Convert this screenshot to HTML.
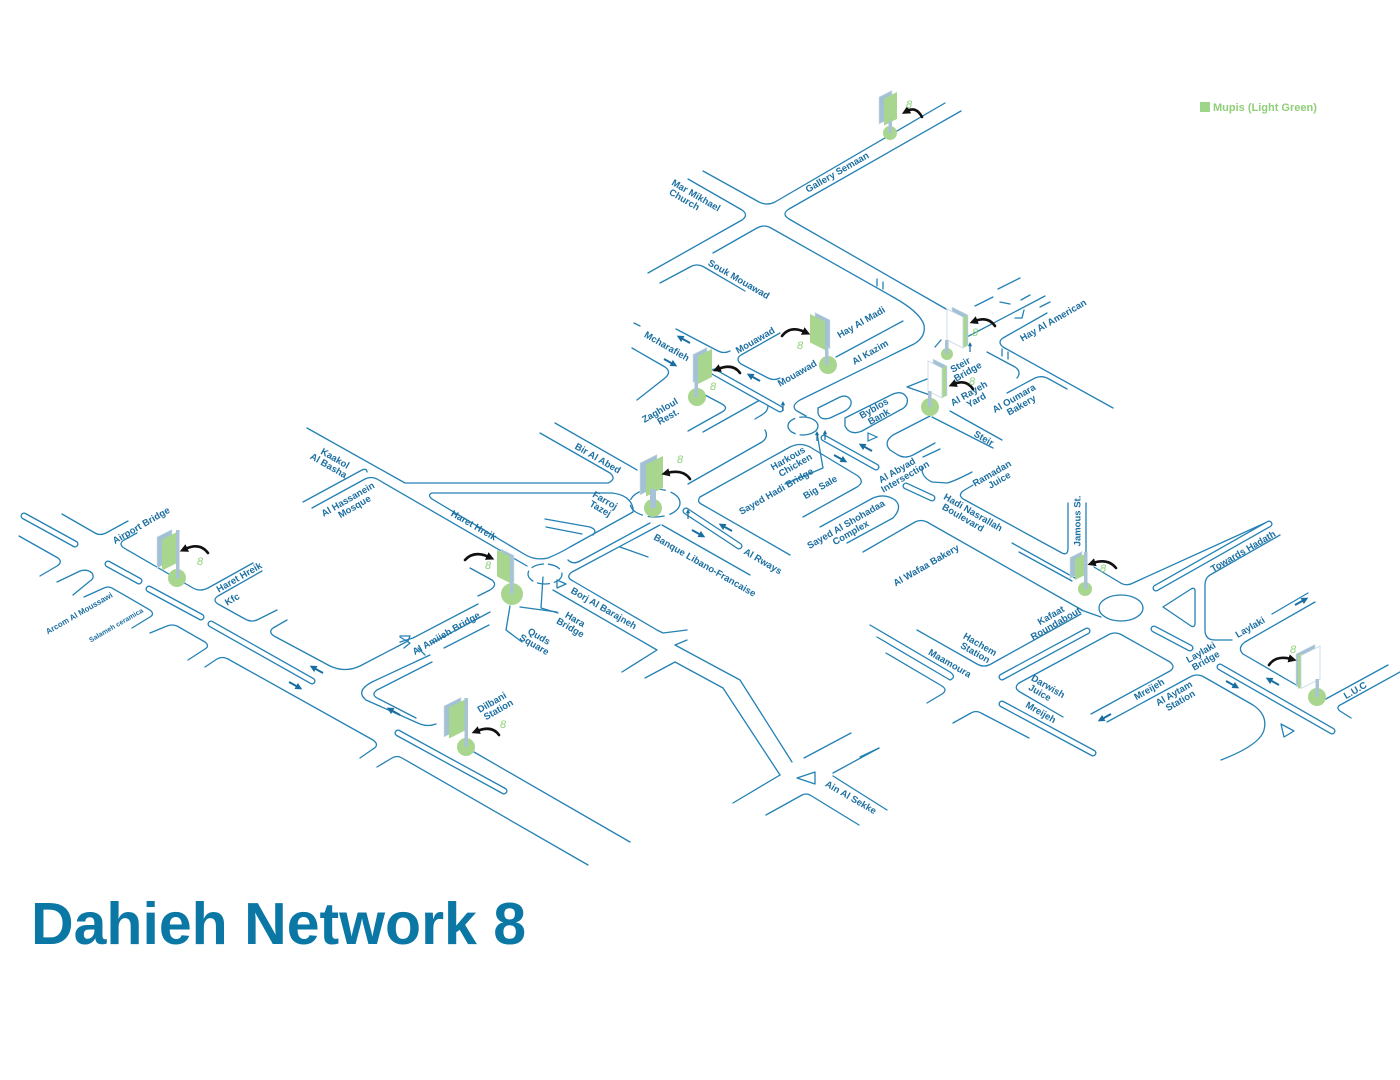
<!DOCTYPE html>
<html>
<head>
<meta charset="utf-8">
<style>
html,body{margin:0;padding:0;background:#fff;}
svg{display:block;}
.r{fill:none;stroke:#2381b4;stroke-width:1.3;stroke-linejoin:round;stroke-linecap:round;}
.c1{fill:none;stroke:#2381b4;stroke-width:7;stroke-linecap:round;}
.c2{fill:none;stroke:#fff;stroke-width:4.4;stroke-linecap:round;}
.t{font-family:"Liberation Sans",Arial,sans-serif;font-weight:bold;font-size:9.5px;fill:#1b6ea0;}
.ts{font-family:"Liberation Sans",Arial,sans-serif;font-weight:bold;font-size:7px;fill:#1b6ea0;}
.e8{font-family:"Liberation Sans",Arial,sans-serif;font-style:italic;font-size:11px;fill:#8fd07a;}
.ar{fill:none;stroke:#1a6ea0;stroke-width:2;marker-end:url(#bh);}
.ka{fill:none;stroke:#111;stroke-width:2.6;stroke-linecap:round;marker-end:url(#kh);}
.gf{fill:#a9d68e;}
.bk{fill:#a3c0d4;stroke:#cfe0ea;stroke-width:0.6;}
.pl{fill:#a8c3d6;}
.wf{fill:#fff;stroke:#c3d7e3;stroke-width:0.8;}
</style>
</head>
<body>
<svg width="1400" height="1080" viewBox="0 0 1400 1080" xmlns="http://www.w3.org/2000/svg">
<defs>
<marker id="bh" viewBox="0 0 10 10" refX="3" refY="5" markerWidth="3.5" markerHeight="3.5" orient="auto"><path d="M0,0 L10,5 L0,10 z" fill="#1a6ea0"/></marker>
<marker id="kh" viewBox="0 0 10 10" refX="3" refY="5" markerWidth="3.2" markerHeight="3.2" orient="auto"><path d="M0,0 L10,5 L0,10 z" fill="#111"/></marker>
</defs>
<rect width="1400" height="1080" fill="#fff"/>

<g class="r">
<path d="M703,171 L759,202 Q767,206 775,202 L945,103"/>
<path d="M961,111 L789,209 Q781,214 789,219 L946,309"/>
<path d="M688,179 L742,210 Q749,215 742,220 L648,273"/>
<path d="M660,283 L690,267 Q697,263 704,267 L745,291"/>
<path d="M713,253 L757,228 Q764,224 771,228 L893,297 Q920,312 924,325 Q926,337 914,344 L800,400 Q790,406 797,411 L806,416"/>
<path d="M877,279 L877,286 M883,282 L883,289"/>
<path d="M632,348 L665,367 Q672,372 665,378 L637,400"/>
<path d="M634,323 L640,326"/>
<path d="M676,329 L718,351 Q724,354 730,351"/>
<path d="M780,333 L741,355 Q735,359 741,364 L768,378 Q774,381 780,378"/>
<path d="M836,357 L903,321"/>
<path d="M705,395 L722,404 Q729,408 722,412 L688,431"/>
<path d="M703,432 L760,400 Q768,397 768,406 Q768,412 760,416 L755,419"/>
<path d="M688,484 L762,442 Q769,437 765,430"/>
<path d="M700,497 L790,447 Q800,442 810,447 L858,476 Q865,482 857,487 L803,517"/>
<path d="M700,497 Q696,502 703,505 L790,555"/>
<path d="M817,433 L823,468 L785,484"/>
<path d="M820,527 L873,498 Q885,493 895,500 Q903,507 893,518 L847,543"/>
<path d="M930,416 L893,435 Q883,442 890,450 L898,455 Q905,459 913,455 L935,443"/>
<path d="M923,457 L940,449"/>
<path d="M922,467 Q921,477 932,482 L947,483 Q955,481 972,472"/>
<path d="M818,408 L840,397 Q848,394 851,401 Q852,407 845,411 L830,418 Q820,421 818,413 Z"/>
<path d="M845,418 L893,394 Q903,390 907,398 Q909,406 900,410 L862,431 Q850,436 845,426 Z"/>
<ellipse cx="803" cy="426" rx="15" ry="9" stroke-dasharray="22 5"/>
<path d="M965,338 L1045,296"/>
<path d="M1047,313 L1003,338 Q997,342 1003,347 L1113,408"/>
<path d="M987,352 L1015,367 Q1022,372 1017,378"/>
<path d="M1002,349 L1002,356 M1008,352 L1008,359"/>
<path d="M975,306 L993,297 M998,289 L1020,278 M1000,302 L1010,304 M1015,318 L1022,318 L1024,310 M1040,307 L1050,302 M1021,300 L1030,295"/>
<path d="M932,417 L993,448"/>
<path d="M950,411 L1002,440"/>
<path d="M1007,393 L1035,378 Q1042,375 1049,379 L1067,389"/>
<path d="M927,379 L907,387 L930,395"/>
<path d="M941,340 L935,347"/>
<path d="M973,485 L963,491 Q957,496 965,500 L1062,553 Q1068,556 1068,548 L1068,503"/>
<path d="M1086,503 L1086,558"/>
<path d="M1012,543 L1075,578"/>
<path d="M1019,552 L1072,581"/>
<path d="M863,552 L915,522 Q921,519 927,522 L1082,610"/>
<path d="M1081,614 L991,664 Q984,668 977,664 L917,630"/>
<path d="M870,625 L950,672 Q957,677 950,680 L877,637"/>
<path d="M886,653 L942,686 Q948,690 942,694 L927,703"/>
<path d="M1019,683 L1108,635 Q1115,631 1122,635 L1170,662 Q1176,667 1170,671 L1091,714"/>
<path d="M1019,683 Q1013,688 1020,692 L1063,717"/>
<path d="M1107,722 L1190,677 Q1197,673 1204,677 L1253,705 Q1268,715 1264,730 Q1260,745 1221,760"/>
<path d="M953,723 L971,713 Q976,710 981,713 L1029,738"/>
<path d="M860,757 L879,748"/>
<path d="M1094,567 L1119,582 Q1126,587 1133,583 L1265,523"/>
<path d="M1280,535 L1210,575 Q1205,578 1205,585 L1205,630 Q1205,640 1215,640 L1232,640"/>
<path d="M1272,614 L1308,593"/>
<path d="M1315,602 L1245,642 Q1237,648 1243,654 L1298,686"/>
<path d="M1163,607 L1191,589 Q1195,587 1195,591 L1195,623 Q1195,628 1191,626 Z"/>
<path d="M1324,700 L1388,665"/>
<path d="M1351,718 L1340,711 Q1335,707 1342,704 L1400,672"/>
<ellipse cx="1121" cy="608" rx="22" ry="13"/>
<path d="M1101,617 L1081,610"/>
<path d="M1281,724 L1294,731 L1284,737 Z"/>
<path d="M540,433 L610,473 Q617,479 608,483 L405,483 L307,428"/>
<path d="M555,423 L637,470"/>
<path d="M432,493 L612,493 Q630,495 633,508 L633,512 L570,547 Q560,553 548,558 Q535,561 524,554 L432,499 Q427,495 432,493 Z"/>
<path d="M545,519 L590,527 Q598,530 593,535"/>
<path d="M546,527 L582,534"/>
<path d="M568,560 Q573,565 580,561 L650,523"/>
<path d="M620,547 L648,557"/>
<path d="M662,525 L750,575"/>
<ellipse cx="655" cy="503" rx="25" ry="14" stroke-dasharray="16 6"/>
<path d="M660,525 L572,572 Q565,577 573,581 L657,630 L663,633 L687,630"/>
<path d="M553,590 L657,650 L622,672"/>
<path d="M687,640 L675,645 L740,680 L792,762"/>
<path d="M645,678 L675,662 L723,688 L780,775"/>
<path d="M733,803 L780,775"/>
<path d="M766,815 L802,795 Q806,793 810,795 L859,825"/>
<path d="M804,758 L851,733"/>
<path d="M833,773 L879,748"/>
<path d="M833,776 L887,810"/>
<path d="M815,772 L797,778 L815,784 Z"/>
<path d="M312,508 L365,479 Q371,476 377,479 L527,566"/>
<path d="M303,502 L362,470 Q367,468 367,472"/>
<ellipse cx="545" cy="574" rx="17" ry="10" stroke-dasharray="12 5"/>
<path d="M470,568 L492,580 Q498,585 490,590 L478,596"/>
<path d="M478,604 L413,638 L400,642"/>
<path d="M490,612 L432,643"/>
<path d="M489,625 L444,648"/>
<path d="M400,637 L410,643 L404,648 M418,648 L425,655"/>
<path d="M543,577 L541,608 L558,613"/>
<path d="M510,606 L506,630 L522,642"/>
<path d="M520,607 L557,612"/>
<path d="M557,580 L566,584 L557,588 Z"/>
<path d="M62,514 L95,533 Q100,536 106,533 L128,521"/>
<path d="M137,533 L124,540 Q118,544 124,548 L193,588 Q200,592 208,588 L253,563"/>
<path d="M19,536 L58,558 Q63,562 57,566 L40,576"/>
<path d="M57,582 L78,572 Q86,568 92,573 Q95,578 90,581 L73,595"/>
<path d="M84,597 L104,588 Q108,586 112,588 L150,610 Q155,614 150,617 L132,628"/>
<path d="M262,571 L218,596 Q212,600 218,604 L245,619 Q252,623 259,619 L277,610"/>
<path d="M287,620 L273,628 Q268,632 274,636 L330,666 Q345,673 360,666 L408,641 L410,636 L400,636"/>
<path d="M150,633 L167,626 Q172,624 177,626 L205,642 Q210,646 205,649 L188,660"/>
<path d="M205,667 L217,659 Q222,656 228,659 L373,740 Q380,745 373,749 L360,758"/>
<path d="M377,767 L392,758 Q397,755 402,758 L588,865"/>
<path d="M474,752 L630,842"/>
<path d="M430,655 L372,682 Q355,691 366,700 L420,724 Q428,727 436,724"/>
<path d="M432,662 L377,690 Q370,695 379,699 L416,718"/>
</g>

<g>
<path class="c1" d="M24,516 L75,544"/><path class="c2" d="M24,516 L75,544"/>
<path class="c1" d="M108,564 L139,581"/><path class="c2" d="M108,564 L139,581"/>
<path class="c1" d="M149,589 L201,617"/><path class="c2" d="M149,589 L201,617"/>
<path class="c1" d="M211,624 L312,681"/><path class="c2" d="M211,624 L312,681"/>
<path class="c1" d="M398,733 L504,791"/><path class="c2" d="M398,733 L504,791"/>
<path class="c1" d="M714,372 L780,409"/><path class="c2" d="M714,372 L780,409"/>
<path class="c1" d="M824,438 L876,467"/><path class="c2" d="M824,438 L876,467"/>
<path class="c1" d="M686,511 L739,546"/><path class="c2" d="M686,511 L739,546"/>
<path class="c1" d="M906,486 L932,498"/><path class="c2" d="M906,486 L932,498"/>
<path class="c1" d="M1002,677 L1087,631"/><path class="c2" d="M1002,677 L1087,631"/>
<path class="c1" d="M1002,704 L1093,753"/><path class="c2" d="M1002,704 L1093,753"/>
<path class="c1" d="M1154,629 L1190,648"/><path class="c2" d="M1154,629 L1190,648"/>
<path class="c1" d="M1220,667 L1332,731"/><path class="c2" d="M1220,667 L1332,731"/>
<path class="c1" d="M1156,588 L1269,524"/><path class="c2" d="M1156,588 L1269,524"/>
</g>

<g>
<path class="ar" d="M690,343 L681,338"/>
<path class="ar" d="M664,359 L673,364"/>
<path class="ar" d="M760,381 L751,376"/>
<path class="ar" d="M834,455 L843,460"/>
<path class="ar" d="M872,451 L863,446"/>
<path class="ar" d="M732,531 L723,526"/>
<path class="ar" d="M692,530 L701,535"/>
<path class="ar" d="M323,673 L314,668"/>
<path class="ar" d="M289,682 L298,687"/>
<path class="ar" d="M400,715 L391,710"/>
<path class="ar" d="M1111,714 L1102,719"/>
<path class="ar" d="M1295,605 L1304,600"/>
<path class="ar" d="M1226,681 L1235,686"/>
<path class="ar" d="M1279,685 L1270,680"/>
<path class="ar" style="stroke-width:1.2" d="M783,411 L783,404"/>
<path class="ar" style="stroke-width:1.2" d="M817,441 L817,434"/>
<path class="ar" style="stroke-width:1.2" d="M825,440 L825,433"/>
<path class="ar" style="stroke-width:1.2" d="M688,519 L688,512"/>
<path class="ar" style="stroke-width:1.2" d="M970,352 L970,345"/>
</g>
<path d="M868,433 L877,437 L868,441 Z" fill="none" stroke="#2381b4" stroke-width="1.2"/>

<g class="t">
<text transform="translate(837,172) rotate(-30)" text-anchor="middle" y="3.5">Gallery Semaan</text>
<text transform="translate(694,199) rotate(30)" text-anchor="middle"><tspan x="0" y="-1">Mar Mikhael</tspan><tspan x="-8" y="8.5">Church</tspan></text>
<text transform="translate(739,279) rotate(30)" text-anchor="middle" y="3.5">Souk Mouawad</text>
<text transform="translate(667,346) rotate(30)" text-anchor="middle" y="3.5">Mcharafieh</text>
<text transform="translate(755,340) rotate(-30)" text-anchor="middle" y="3.5">Mouawad</text>
<text transform="translate(861,322) rotate(-30)" text-anchor="middle" y="3.5">Hay Al Madi</text>
<text transform="translate(797,373) rotate(-30)" text-anchor="middle" y="3.5">Mouawad</text>
<text transform="translate(870,352) rotate(-30)" text-anchor="middle" y="3.5">Al Kazim</text>
<text transform="translate(662,414) rotate(-30)" text-anchor="middle"><tspan x="0" y="-1">Zaghloul</tspan><tspan x="4" y="8.5">Rest.</tspan></text>
<text transform="translate(1053,320) rotate(-30)" text-anchor="middle" y="3.5">Hay Al American</text>
<text transform="translate(965,367) rotate(-30)" text-anchor="middle"><tspan x="-3" y="-1">Steir</tspan><tspan x="0" y="8.5">Bridge</tspan></text>
<text transform="translate(971,397) rotate(-30)" text-anchor="middle"><tspan x="0" y="-1">Al Rayeh</tspan><tspan x="3" y="8.5">Yard</tspan></text>
<text transform="translate(1016,402) rotate(-30)" text-anchor="middle"><tspan x="0" y="-1">Al Oumara</tspan><tspan x="3" y="8.5">Bakery</tspan></text>
<text transform="translate(984,438) rotate(30)" text-anchor="middle" y="3.5">Steir</text>
<text transform="translate(876,412) rotate(-30)" text-anchor="middle"><tspan x="0" y="-1">Byblos</tspan><tspan x="0" y="8.5">Bank</tspan></text>
<text transform="translate(790,462) rotate(-30)" text-anchor="middle"><tspan x="0" y="-1">Harkous</tspan><tspan x="3" y="8.5">Chicken</tspan></text>
<text transform="translate(776,491) rotate(-30)" text-anchor="middle" y="3.5">Sayed Hadi Bridge</text>
<text transform="translate(820,487) rotate(-30)" text-anchor="middle" y="3.5">Big Sale</text>
<text transform="translate(899,474) rotate(-30)" text-anchor="middle"><tspan x="0" y="-1">Al Abyad</tspan><tspan x="4" y="8.5">Intersection</tspan></text>
<text transform="translate(994,477) rotate(-30)" text-anchor="middle"><tspan x="0" y="-1">Ramadan</tspan><tspan x="3" y="8.5">Juice</tspan></text>
<text transform="translate(971,516) rotate(30)" text-anchor="middle"><tspan x="0" y="-1">Hadi Nasrallah</tspan><tspan x="-6" y="8.5">Boulevard</tspan></text>
<text transform="translate(848,528) rotate(-30)" text-anchor="middle"><tspan x="0" y="-1">Sayed Al Shohadaa</tspan><tspan x="0" y="8.5">Complex</tspan></text>
<text transform="translate(926,565) rotate(-30)" text-anchor="middle" y="3.5">Al Wafaa Bakery</text>
<text transform="translate(1077,521) rotate(-90)" text-anchor="middle" y="3.5">Jamous St.</text>
<text transform="translate(1243,551) rotate(-30)" text-anchor="middle" y="3.5">Towards Hadath</text>
<text transform="translate(1053,619) rotate(-30)" text-anchor="middle"><tspan x="0" y="-1">Kafaat</tspan><tspan x="0" y="8.5">Roundabout</tspan></text>
<text transform="translate(978,648) rotate(30)" text-anchor="middle"><tspan x="0" y="-1">Hachem</tspan><tspan x="0" y="8.5">Station</tspan></text>
<text transform="translate(950,663) rotate(30)" text-anchor="middle" y="3.5">Maamoura</text>
<text transform="translate(1203,656) rotate(-30)" text-anchor="middle"><tspan x="0" y="-1">Laylaki</tspan><tspan x="0" y="8.5">Bridge</tspan></text>
<text transform="translate(1250,627) rotate(-30)" text-anchor="middle" y="3.5">Laylaki</text>
<text transform="translate(1046,690) rotate(30)" text-anchor="middle"><tspan x="0" y="-1">Darwish</tspan><tspan x="-4" y="8.5">Juice</tspan></text>
<text transform="translate(1041,712) rotate(30)" text-anchor="middle" y="3.5">Mreijeh</text>
<text transform="translate(1149,689) rotate(-30)" text-anchor="middle" y="3.5">Mreijeh</text>
<text transform="translate(1176,697) rotate(-30)" text-anchor="middle"><tspan x="0" y="-1">Al Aytam</tspan><tspan x="2" y="8.5">Station</tspan></text>
<text transform="translate(1355,690) rotate(-30)" text-anchor="middle" y="3.5">L.U.C</text>
<text transform="translate(598,458) rotate(30)" text-anchor="middle" y="3.5">Bir Al Abed</text>
<text transform="translate(603,504) rotate(30)" text-anchor="middle"><tspan x="0" y="-1">Farroj</tspan><tspan x="0" y="8.5">Tazej</tspan></text>
<text transform="translate(333,462) rotate(30)" text-anchor="middle"><tspan x="0" y="-1">Kaakol</tspan><tspan x="-2" y="8.5">Al Basha</tspan></text>
<text transform="translate(350,503) rotate(-30)" text-anchor="middle"><tspan x="0" y="-1">Al Hassanein</tspan><tspan x="2" y="8.5">Mosque</tspan></text>
<text transform="translate(474,525) rotate(30)" text-anchor="middle" y="3.5">Haret Hreik</text>
<text transform="translate(705,565) rotate(30)" text-anchor="middle" y="3.5">Banque Libano-Francaise</text>
<text transform="translate(763,561) rotate(30)" text-anchor="middle" y="3.5">Al Rways</text>
<text transform="translate(604,608) rotate(30)" text-anchor="middle" y="3.5">Borj Al Barajneh</text>
<text transform="translate(573,623) rotate(30)" text-anchor="middle"><tspan x="0" y="-1">Hara</tspan><tspan x="0" y="8.5">Bridge</tspan></text>
<text transform="translate(537,640) rotate(30)" text-anchor="middle"><tspan x="0" y="-1">Quds</tspan><tspan x="0" y="8.5">Square</tspan></text>
<text transform="translate(446,633) rotate(-30)" text-anchor="middle" y="3.5">Al Amiieh Bridge</text>
<text transform="translate(141,525) rotate(-30)" text-anchor="middle" y="3.5">Airport Bridge</text>
<text transform="translate(239,577) rotate(-30)" text-anchor="middle" y="3.5">Haret Hreik</text>
<text transform="translate(232,599) rotate(-30)" text-anchor="middle" y="3.5">Kfc</text>
<text transform="translate(79,613) rotate(-30)" text-anchor="middle" y="3" style="font-size:8px">Arcom Al Moussawi</text>
<text transform="translate(494,706) rotate(-30)" text-anchor="middle"><tspan x="0" y="-1">Dilbani</tspan><tspan x="2" y="8.5">Station</tspan></text>
<text transform="translate(851,797) rotate(30)" text-anchor="middle" y="3.5">Ain Al Sekke</text>
</g>
<text class="ts" transform="translate(116,625) rotate(-30)" text-anchor="middle" y="2.5">Salameh ceramica</text>

<circle class="gf" cx="890" cy="133" r="7"/>
<polygon class="bk" points="879,97 892,90.5 892,117.5 879,124"/>
<polygon class="gf" points="884,98.5 897,92 897,119 884,125.5"/>
<rect class="pl" x="888.5" y="121" width="3.5" height="12"/>
<circle class="gf" cx="697" cy="397" r="9"/>
<polygon class="bk" points="693,354.5 707,347.5 707,375.5 693,382.5"/>
<polygon class="gf" points="698,356 712,349 712,377 698,384"/>
<rect class="pl" x="694.5" y="380" width="3.5" height="17"/>
<circle class="gf" cx="828" cy="365" r="9"/>
<polygon class="bk" points="815,312.5 830,320 830,348.5 815,341"/>
<polygon class="gf" points="810,314 825,321.5 825,350 810,342.5"/>
<rect class="pl" x="825" y="345" width="3.5" height="20"/>
<circle class="gf" cx="653" cy="508" r="9"/>
<polygon class="bk" points="640,463 657,454.5 657,486.5 640,495"/>
<polygon class="gf" points="646,464.5 663,456 663,488 646,496.5"/>
<rect class="pl" x="650" y="489" width="6" height="19"/>
<circle class="gf" cx="512" cy="594" r="11"/>
<polygon class="bk" points="501,549 514,555.5 514,582 501,575.5"/>
<polygon class="gf" points="497,550 510,556.5 510,583 497,576.5"/>
<rect class="pl" x="510" y="556" width="3.5" height="38"/>
<circle class="gf" cx="177" cy="578" r="9"/>
<polygon class="bk" points="157,537 172,529.5 172,560.5 157,568"/>
<polygon class="gf" points="162,539.5 177,532 177,563 162,570.5"/>
<rect class="pl" x="176" y="530" width="3.5" height="48"/>
<circle class="gf" cx="466" cy="747" r="9"/>
<polygon class="bk" points="444,706 461,697.5 461,728.5 444,737"/>
<polygon class="gf" points="449,707.5 466,699 466,730 449,738.5"/>
<rect class="pl" x="464.5" y="698" width="3.5" height="49"/>
<circle class="gf" cx="1085" cy="589" r="7"/>
<polygon class="bk" points="1070,557.5 1082,551.5 1082,572.5 1070,578.5"/>
<polygon class="gf" points="1075,559 1087,553 1087,574 1075,580"/>
<rect class="pl" x="1084" y="552" width="3.5" height="37"/>
<circle class="gf" cx="1317" cy="697" r="9"/>
<polygon class="bk" points="1296,654 1315,644.5 1315,677.5 1296,687"/>
<polygon class="gf" points="1298,655 1302,653 1302,687 1298,689"/>
<polygon class="wf" points="1301,655.5 1320,646 1320,679 1301,688.5"/>
<rect class="pl" x="1315.5" y="679" width="3.5" height="18"/>
<circle class="gf" cx="947" cy="354" r="6"/>
<polygon class="bk" points="952,307 968,315 968,346 952,338"/>
<polygon class="gf" points="963,317 967,315 967,346 963,348"/>
<polygon class="wf" points="947,309 963,317 963,348 947,340"/>
<rect class="pl" x="945" y="340" width="3.5" height="14"/>
<circle class="gf" cx="930" cy="407" r="9"/>
<polygon class="bk" points="933,359 947,366 947,396 933,389"/>
<polygon class="gf" points="942,368 946,366 946,396 942,398"/>
<polygon class="wf" points="928,361 942,368 942,398 928,391"/>
<rect class="pl" x="928" y="391" width="3.5" height="16"/>

<path class="ka" d="M922,117 Q916,106 907,111"/>
<path class="ka" d="M740,373 Q733,363 718,369"/>
<path class="ka" d="M782,336 Q790,325 805,332"/>
<path class="ka" d="M995,326 Q988,316 975,321"/>
<path class="ka" d="M973,389 Q966,379 954,384"/>
<path class="ka" d="M690,479 Q683,469 667,473"/>
<path class="ka" d="M465,560 Q474,550 489,557"/>
<path class="ka" d="M208,553 Q200,542 185,549"/>
<path class="ka" d="M499,735 Q492,725 477,731"/>
<path class="ka" d="M1116,568 Q1108,558 1093,563"/>
<path class="ka" d="M1269,665 Q1276,655 1291,659"/>

<g class="e8" text-anchor="middle">
<text x="909" y="108">8</text>
<text x="713" y="390">8</text>
<text x="800" y="349">8</text>
<text x="975" y="336">8</text>
<text x="972" y="385">8</text>
<text x="680" y="463">8</text>
<text x="488" y="569">8</text>
<text x="200" y="565">8</text>
<text x="503" y="728">8</text>
<text x="1103" y="572">8</text>
<text x="1293" y="653">8</text>
</g>

<rect x="1200" y="102" width="10" height="10" fill="#9fd58a"/>
<text x="1213" y="111" style="font-family:'Liberation Sans',Arial,sans-serif;font-weight:bold;font-size:11px;fill:#8fce78;">Mupis (Light Green)</text>

<text x="31" y="944" style="font-family:'Liberation Sans',Arial,sans-serif;font-weight:bold;font-size:59px;fill:#0a77a5;">Dahieh Network 8</text>
</svg>
</body>
</html>
